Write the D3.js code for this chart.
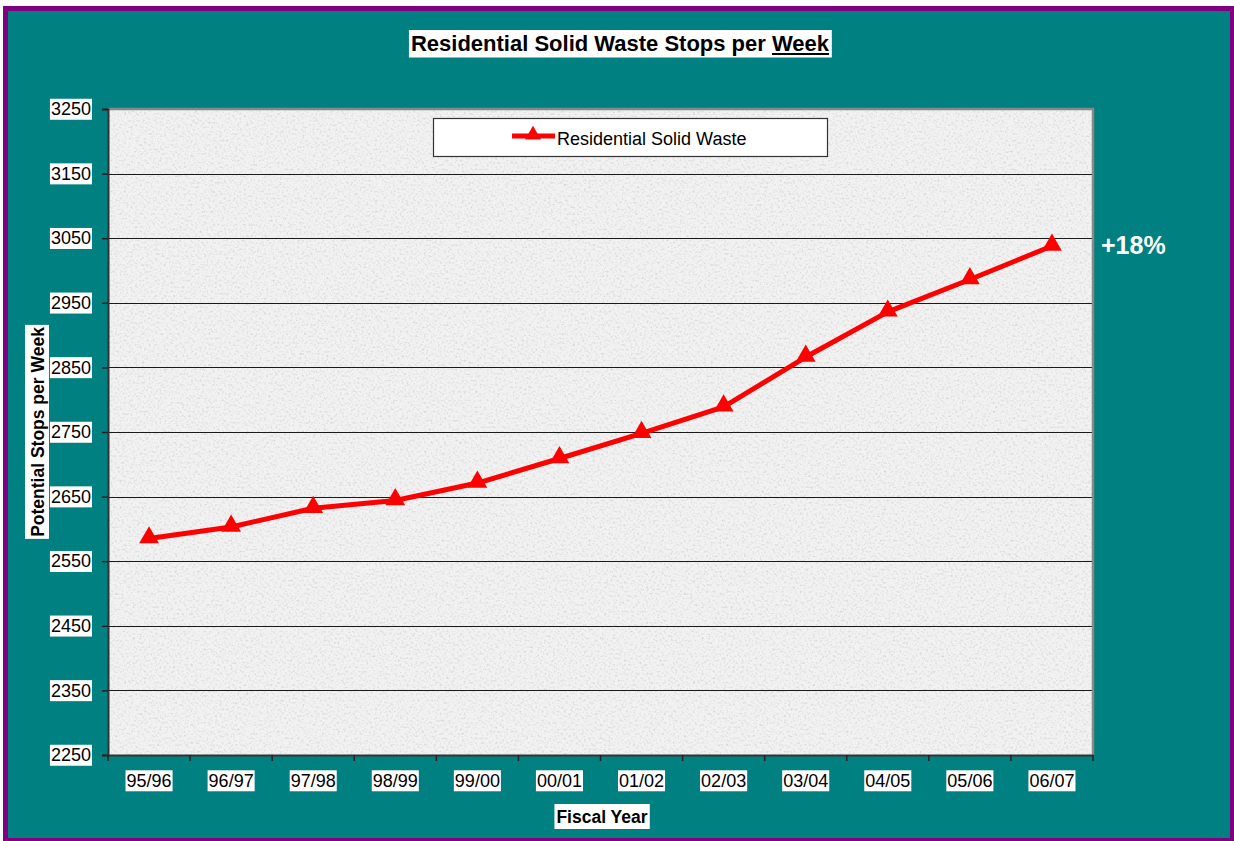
<!DOCTYPE html>
<html>
<head>
<meta charset="utf-8">
<script src="https://cdn.jsdelivr.net/npm/d3@7/dist/d3.min.js"></script>
<style>
  html, body { margin: 0; padding: 0; background: #ffffff; }
  svg { display: block; font-family: "Liberation Sans", Arial, sans-serif; }
</style>
</head>
<body>
<svg id="chart" width="1234" height="841"></svg>
<script>
// ---- Data ----
const categories = ["95/96","96/97","97/98","98/99","99/00","00/01","01/02","02/03","03/04","04/05","05/06","06/07"];
const stops = [2585, 2603, 2632, 2644, 2671, 2709, 2748, 2789, 2866, 2936, 2986, 3038];
const yTicks = [2250, 2350, 2450, 2550, 2650, 2750, 2850, 2950, 3050, 3150, 3250];
const seriesName = "Residential Solid Waste";
const titleMain = "Residential Solid Waste Stops per ";
const titleUnderlined = "Week";
const xTitle = "Fiscal Year";
const yTitle = "Potential Stops per Week";
const growthLabel = "+18%";

// ---- Layout ----
const svg = d3.select("#chart");
const plot = { left: 108, right: 1093, top: 109, bottom: 755 };

// outer frame
svg.append("rect").attr("x", 3).attr("y", 6).attr("width", 1231).attr("height", 836).attr("fill", "#800080");
svg.append("rect").attr("x", 8).attr("y", 11).attr("width", 1222).attr("height", 827).attr("fill", "#008080");

// texture filter for plot background
const defs = svg.append("defs");
const f = defs.append("filter").attr("id", "granite").attr("x", 0).attr("y", 0).attr("width", 1).attr("height", 1);
f.append("feTurbulence").attr("type", "fractalNoise").attr("baseFrequency", 0.45).attr("numOctaves", 3).attr("seed", 7).attr("result", "noise");
f.append("feColorMatrix").attr("in", "noise").attr("type", "matrix")
  .attr("values", "0 0 0 0 0.62  0 0 0 0 0.62  0 0 0 0 0.62  -2.0 0 0 0 1.05")
  .attr("result", "spots");
f.append("feComposite").attr("in", "spots").attr("in2", "SourceGraphic").attr("operator", "atop");

// scales
const xBand = d3.scaleBand().domain(categories).range([plot.left, plot.right]).padding(0);
const xPos = c => xBand(c) + xBand.bandwidth() / 2;
const y = d3.scaleLinear().domain([2250, 3250]).range([plot.bottom, plot.top]);

// plot area background
svg.append("rect").attr("x", plot.left).attr("y", plot.top)
  .attr("width", plot.right - plot.left).attr("height", plot.bottom - plot.top)
  .attr("fill", "#f2f2f2").attr("filter", "url(#granite)");

// gridlines
svg.append("g").selectAll("line").data(yTicks.filter(v => v > 2250 && v < 3250)).join("line")
  .attr("x1", plot.left).attr("x2", plot.right)
  .attr("y1", d => Math.round(y(d)) + 0.5).attr("y2", d => Math.round(y(d)) + 0.5)
  .attr("stroke", "#1a1a1a").attr("stroke-width", 1);

// plot border (top/right gray)
svg.append("path")
  .attr("d", `M${plot.left},${plot.top} H${plot.right} V${plot.bottom}`)
  .attr("fill", "none").attr("stroke", "#888888").attr("stroke-width", 2.5);

// Y axis
const yAxis = svg.append("g").attr("transform", `translate(${plot.left},0)`)
  .call(d3.axisLeft(y).tickValues(yTicks).tickSize(6).tickPadding(11).tickFormat(d3.format("d")));
yAxis.select(".domain").attr("stroke", "#333333").attr("stroke-width", 2);
yAxis.selectAll(".tick line").attr("stroke", "#222222").attr("stroke-width", 1.5);
yAxis.selectAll(".tick text").attr("font-size", 18).attr("fill", "#000").attr("font-family", "Liberation Sans, Arial, sans-serif");

// X axis
const xAxis = svg.append("g").attr("transform", `translate(0,${plot.bottom})`)
  .call(d3.axisBottom(xBand).tickSize(0).tickPadding(19));
xAxis.select(".domain").attr("stroke", "#333333").attr("stroke-width", 2);
xAxis.selectAll(".tick text").attr("font-size", 18).attr("fill", "#000").attr("font-family", "Liberation Sans, Arial, sans-serif");
const bounds = categories.map(c => xBand(c)).concat([xBand.range()[1]]);
xAxis.append("g").selectAll("line").data(bounds).join("line")
  .attr("x1", d => d).attr("x2", d => d).attr("y1", 0).attr("y2", 6)
  .attr("stroke", "#222222").attr("stroke-width", 1.5);

// white backgrounds behind tick labels
function addBg(sel, padX, padY) {
  sel.each(function() {
    const bb = this.getBBox();
    d3.select(this.parentNode).insert("rect", () => this)
      .attr("x", bb.x - padX).attr("y", bb.y - padY)
      .attr("width", bb.width + 2 * padX).attr("height", bb.height + 2 * padY)
      .attr("fill", "#ffffff");
  });
}
addBg(yAxis.selectAll(".tick text"), 1, 0.5);
addBg(xAxis.selectAll(".tick text"), 1, 0.5);

// line + markers
const line = d3.line().x((d, i) => xPos(categories[i])).y(d => y(d));
svg.append("path").datum(stops).attr("d", line)
  .attr("fill", "none").attr("stroke", "#ff0000").attr("stroke-width", 5).attr("stroke-linejoin", "round");
const tri = d3.symbol().type(d3.symbolTriangle).size(170);
svg.append("g").selectAll("path").data(stops).join("path")
  .attr("d", tri)
  .attr("transform", (d, i) => `translate(${xPos(categories[i])},${y(d) - 1})`)
  .attr("fill", "#ff0000");

// legend
const lg = svg.append("g");
lg.append("rect").attr("x", 433.5).attr("y", 118.5).attr("width", 394).attr("height", 38)
  .attr("fill", "#ffffff").attr("stroke", "#333333").attr("stroke-width", 1.2);
lg.append("line").attr("x1", 512).attr("x2", 555).attr("y1", 136).attr("y2", 136)
  .attr("stroke", "#ff0000").attr("stroke-width", 5);
lg.append("path").attr("d", d3.symbol().type(d3.symbolTriangle).size(110))
  .attr("transform", "translate(533,135)").attr("fill", "#ff0000");
lg.append("text").attr("x", 557).attr("y", 144.5).attr("font-size", 18).attr("fill", "#000")
  .text(seriesName);

// title
const title = svg.append("g");
const tt = title.append("text").attr("x", 620).attr("y", 51).attr("text-anchor", "middle")
  .attr("font-size", 22).attr("font-weight", "bold").attr("fill", "#000");
tt.append("tspan").text(titleMain);
tt.append("tspan").text(titleUnderlined);
{
  const bb = tt.node().getBBox();
  title.insert("rect", "text").attr("x", bb.x - 2).attr("y", 30).attr("width", bb.width + 4).attr("height", 27.5).attr("fill", "#fff");
  const wNode = tt.selectAll("tspan").nodes()[1];
  const start = wNode.getStartPositionOfChar(0).x;
  const end = wNode.getEndPositionOfChar(titleUnderlined.length - 1).x;
  title.append("line").attr("x1", start).attr("x2", end).attr("y1", 54).attr("y2", 54)
    .attr("stroke", "#000").attr("stroke-width", 2);
}

// x axis title
const xt = svg.append("g");
const xtt = xt.append("text").attr("x", 602).attr("y", 823).attr("text-anchor", "middle")
  .attr("font-size", 17.5).attr("font-weight", "bold").attr("fill", "#000").text(xTitle);
{
  const bb = xtt.node().getBBox();
  xt.insert("rect", "text").attr("x", bb.x - 2).attr("y", 804).attr("width", bb.width + 4).attr("height", 25).attr("fill", "#fff");
}

// y axis title
const yt = svg.append("g").attr("transform", "translate(37,432) rotate(-90)");
const ytt = yt.append("text").attr("x", 0).attr("y", 6.5).attr("text-anchor", "middle")
  .attr("font-size", 17.5).attr("font-weight", "bold").attr("fill", "#000").text(yTitle);
{
  const bb = ytt.node().getBBox();
  yt.insert("rect", "text").attr("x", bb.x - 2).attr("y", -12).attr("width", bb.width + 4).attr("height", 24).attr("fill", "#fff");
}

// growth annotation
svg.append("text").attr("x", 1101).attr("y", 254).attr("font-size", 25).attr("font-weight", "bold")
  .attr("fill", "#ffffff").text(growthLabel);
</script>
</body>
</html>
